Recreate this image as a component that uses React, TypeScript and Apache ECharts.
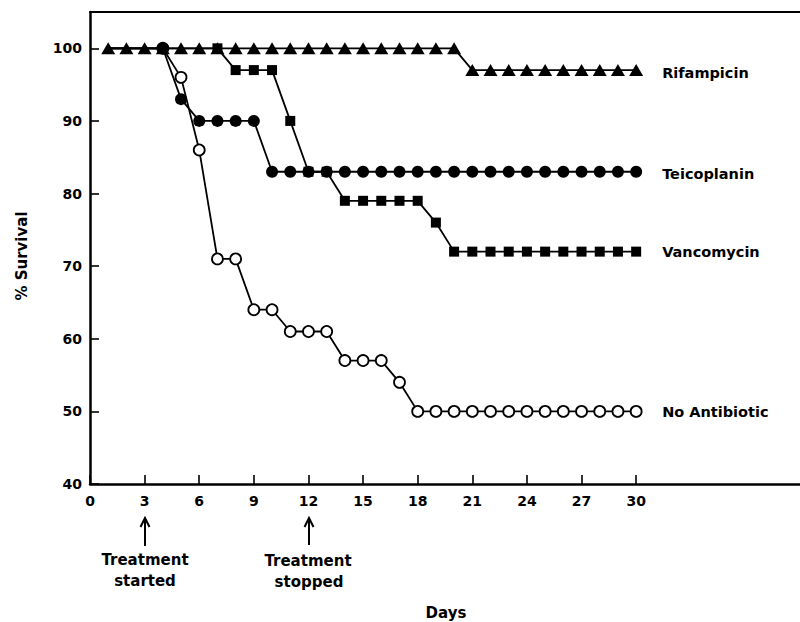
import React, { useEffect, useRef } from "react";
import * as echarts from "echarts";

const days = [1, 2, 3, 4, 5, 6, 7, 8, 9, 10, 11, 12, 13, 14, 15, 16, 17, 18, 19, 20, 21, 22, 23, 24, 25, 26, 27, 28, 29, 30];
const rifampicin = [100, 100, 100, 100, 100, 100, 100, 100, 100, 100, 100, 100, 100, 100, 100, 100, 100, 100, 100, 100, 97, 97, 97, 97, 97, 97, 97, 97, 97, 97];
const teicoplanin = [100, 100, 100, 100, 93, 90, 90, 90, 90, 83, 83, 83, 83, 83, 83, 83, 83, 83, 83, 83, 83, 83, 83, 83, 83, 83, 83, 83, 83, 83];
const vancomycin = [100, 100, 100, 100, 100, 100, 100, 97, 97, 97, 90, 83, 83, 79, 79, 79, 79, 79, 76, 72, 72, 72, 72, 72, 72, 72, 72, 72, 72, 72];
const noAntibiotic = [100, 100, 100, 100, 96, 86, 71, 71, 64, 64, 61, 61, 61, 57, 57, 57, 54, 50, 50, 50, 50, 50, 50, 50, 50, 50, 50, 50, 50, 50];
const xTicks = [0, 3, 6, 9, 12, 15, 18, 21, 24, 27, 30];
const yTicks = [40, 50, 60, 70, 80, 90, 100];

const FONT = "DejaVu Sans";

export default function App() {
  const ref = useRef<HTMLDivElement>(null);
  useEffect(() => {
    if (!ref.current) return;
    const chart = echarts.init(ref.current, null, { renderer: "svg" });
    // Points hidden under the Rifampicin line (100% before a series starts to fall) carry no marker.
    const pair = (vals: number[], hideLeading: boolean) =>
      days.map((d, i) => {
        const hidden = hideLeading && vals[i] === 100 && i + 1 < vals.length && vals[i + 1] === 100;
        return hidden ? { value: [d, vals[i]], symbol: "none" } : { value: [d, vals[i]] };
      });
    const mk = (
      name: string,
      vals: number[],
      symbol: string,
      size: number | number[],
      fill: string,
      z: number,
      hideLeading: boolean,
      dy: number
    ) => ({
      name,
      type: "line",
      data: pair(vals, hideLeading),
      symbol,
      symbolSize: size,
      showAllSymbol: true,
      z,
      lineStyle: { color: "#000", width: 1.8 },
      itemStyle: { color: fill, borderColor: "#000", borderWidth: fill === "#fff" ? 1.8 : 0 },
      endLabel: {
        show: true,
        formatter: name,
        distance: 26,
        offset: [0, dy],
        color: "#000",
        fontFamily: FONT,
        fontWeight: "bold",
        fontSize: 14.5,
      },
    });
    const lab = (x: number, y: number, text: string, size = 15) => ({
      type: "text",
      x,
      y,
      style: { text, fill: "#000", font: `bold ${size}px "${FONT}"`, textAlign: "center", textVerticalAlign: "middle" },
    });
    const arrow = (x: number, y1: number, y2: number) => ({
      type: "group",
      children: [
        { type: "line", shape: { x1: x, y1, x2: x, y2 }, style: { stroke: "#000", lineWidth: 2 } },
        {
          type: "polyline",
          shape: { points: [[x - 4.5, y1 + 9], [x, y1], [x + 4.5, y1 + 9]] },
          style: { stroke: "#000", lineWidth: 2, fill: null },
        },
      ],
    });
    chart.setOption({
      animation: false,
      backgroundColor: "#fff",
      grid: { left: 90, right: 0, top: 12, bottom: 138 },
      xAxis: [
        {
          type: "value",
          min: 0,
          max: 39,
          interval: 3,
          splitLine: { show: false },
          axisLine: { show: true, lineStyle: { color: "#000", width: 2.5 } },
          axisTick: { show: true, inside: true, length: 9, customValues: xTicks, lineStyle: { color: "#000", width: 1.6 } },
          axisLabel: { customValues: xTicks, color: "#000", fontFamily: FONT, fontWeight: "bold", fontSize: 14, margin: 10 },
        },
        {
          type: "value",
          position: "top",
          min: 0,
          max: 39,
          splitLine: { show: false },
          axisLine: { show: true, lineStyle: { color: "#000", width: 2 } },
          axisTick: { show: false },
          axisLabel: { show: false },
        },
      ],
      yAxis: {
        type: "value",
        min: 40,
        max: 105,
        interval: 10,
        splitLine: { show: false },
        axisLine: { show: true, lineStyle: { color: "#000", width: 2.5 } },
        axisTick: { show: true, inside: true, length: 9, customValues: yTicks, lineStyle: { color: "#000", width: 1.6 } },
        axisLabel: { customValues: yTicks, color: "#000", fontFamily: FONT, fontWeight: "bold", fontSize: 14, margin: 8 },
      },
      series: [
        mk("No Antibiotic", noAntibiotic, "circle", 11, "#fff", 2, true, 1),
        mk("Vancomycin", vancomycin, "rect", 10, "#000", 3, true, 0),
        mk("Teicoplanin", teicoplanin, "circle", 12, "#000", 4, true, 2),
        mk("Rifampicin", rifampicin, "triangle", [14, 12], "#000", 5, false, 3),
      ],
      graphic: [
        {
          type: "text",
          x: 22,
          y: 256,
          rotation: Math.PI / 2,
          style: { text: "% Survival", fill: "#000", font: `bold 15px "${FONT}"`, textAlign: "center", textVerticalAlign: "middle" },
        },
        lab(446, 613, "Days"),
        arrow(145, 518, 546),
        lab(145, 560, "Treatment"),
        lab(145, 581, "started"),
        arrow(309, 518, 545),
        lab(308, 561, "Treatment"),
        lab(309, 582, "stopped"),
      ],
    });
    return () => chart.dispose();
  }, []);
  return <div ref={ref} style={{ position: "fixed", left: 0, top: 0, width: 800, height: 622 }} />;
}
